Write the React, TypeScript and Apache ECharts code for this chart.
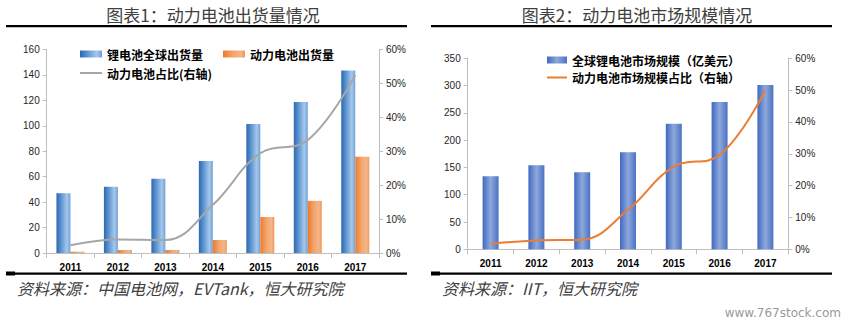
import React, { useEffect, useRef } from "react";
import * as echarts from "echarts";

const years = ["2011", "2012", "2013", "2014", "2015", "2016", "2017"];
const globalShipments = [47, 52, 58.3, 72.4, 101.5, 118.8, 143.5];
const powerShipments = [1, 2.4, 2.4, 10.2, 28.3, 41, 75.6];
const powerShare = [0.023, 0.04, 0.038, 0.142, 0.294, 0.333, 0.525];
const marketSize = [134, 154, 141, 178, 230, 270, 301];
const marketShare = [0.017, 0.028, 0.03, 0.124, 0.26, 0.296, 0.5];

const title1 = "图表1：动力电池出货量情况";
const title2 = "图表2：动力电池市场规模情况";
const source1 = "资料来源：中国电池网，EVTank，恒大研究院";
const source2 = "资料来源：IIT，恒大研究院";
const watermark = "www.767stock.com";
const s1Name = "锂电池全球出货量";
const s2Name = "动力电池出货量";
const s3Name = "动力电池占比(右轴)";
const s4Name = "全球锂电池市场规模（亿美元）";
const s5Name = "动力电池市场规模占比（右轴）";

const sans = "'Liberation Sans', Arial, sans-serif";
const cjk = "'Noto Sans CJK SC', sans-serif";

const grad = (stops: [number, string][]) => ({
  type: "linear",
  x: 0,
  y: 0,
  x2: 1,
  y2: 0,
  colorStops: stops.map(([offset, color]) => ({ offset, color })),
});

const blue1 = grad([
  [0, "#2c69b0"],
  [0.35, "#5f95d2"],
  [0.75, "#a6c8ea"],
  [1, "#6fa1d8"],
]);
const orange1 = grad([
  [0, "#ec7a2c"],
  [0.45, "#f3a66e"],
  [0.8, "#f5b587"],
  [1, "#ef9658"],
]);
const blue2 = grad([
  [0, "#4068bf"],
  [0.5, "#8ea8dc"],
  [1, "#4a72c4"],
]);

const axisGrey = "#bfbfbf";

function yAxisBase(min: number, max: number, interval: number, pct: boolean, gridIndex: number, position: string) {
  return {
    type: "value",
    gridIndex,
    position,
    min,
    max,
    interval,
    splitLine: { show: false },
    axisLine: { show: true, lineStyle: { color: axisGrey, width: 1 } },
    axisTick: { show: true, length: 4, lineStyle: { color: axisGrey } },
    axisLabel: {
      margin: 7,
      color: "#262626",
      fontSize: 10,
      fontFamily: sans,
      formatter: pct ? (v: number) => Math.round(v * 100) + "%" : undefined,
    },
  };
}

function xAxisBase(gridIndex: number) {
  return {
    type: "category",
    gridIndex,
    data: years,
    boundaryGap: true,
    axisLine: { show: true, lineStyle: { color: axisGrey, width: 1 } },
    axisTick: { show: true, length: 5, alignWithLabel: false, lineStyle: { color: axisGrey } },
    axisLabel: { margin: 9, color: "#000", fontSize: 10, fontWeight: "bold", fontFamily: sans },
  };
}

const legendText = { fontSize: 12, fontWeight: "bold", fontFamily: cjk, color: "#000", padding: [0, 0, 0, 0] };

export default function App() {
  const ref = useRef<HTMLDivElement>(null);
  useEffect(() => {
    if (!ref.current) return;
    const chart = echarts.init(ref.current, undefined, { renderer: "svg" });
    chart.setOption({
      animation: false,
      backgroundColor: "#ffffff",
      grid: [
        { left: 46.7, top: 49.5, width: 332.3, height: 203.5 },
        { left: 467.7, top: 58.3, width: 320.6, height: 191 },
      ],
      xAxis: [xAxisBase(0), xAxisBase(1)],
      yAxis: [
        yAxisBase(0, 160, 20, false, 0, "left"),
        yAxisBase(0, 0.6, 0.1, true, 0, "right"),
        yAxisBase(0, 350, 50, false, 1, "left"),
        yAxisBase(0, 0.6, 0.1, true, 1, "right"),
      ],
      legend: [
        {
          data: [
            { name: s1Name, icon: "rect" },
            { name: s2Name, icon: "rect" },
          ],
          left: 75,
          top: 43,
          itemWidth: 22,
          itemHeight: 7,
          itemGap: 20,
          textStyle: legendText,
          selectedMode: false,
        },
        {
          data: [{ name: s3Name, icon: "rect" }],
          left: 75,
          top: 62,
          itemWidth: 22,
          itemHeight: 2,
          textStyle: legendText,
          selectedMode: false,
        },
        {
          data: [{ name: s4Name, icon: "rect" }],
          left: 542,
          top: 49,
          itemWidth: 20,
          itemHeight: 7,
          textStyle: legendText,
          selectedMode: false,
        },
        {
          data: [{ name: s5Name, icon: "rect" }],
          left: 542,
          top: 66.5,
          itemWidth: 20,
          itemHeight: 2,
          textStyle: legendText,
          selectedMode: false,
        },
      ],
      series: [
        {
          name: s1Name,
          type: "bar",
          xAxisIndex: 0,
          yAxisIndex: 0,
          data: globalShipments,
          barWidth: 14,
          barGap: "0%",
          itemStyle: { color: blue1 },
        },
        {
          name: s2Name,
          type: "bar",
          xAxisIndex: 0,
          yAxisIndex: 0,
          data: powerShipments,
          barWidth: 14,
          barGap: "0%",
          itemStyle: { color: orange1 },
        },
        {
          name: s3Name,
          type: "line",
          xAxisIndex: 0,
          yAxisIndex: 1,
          data: powerShare,
          smooth: 0.4,
          symbol: "none",
          lineStyle: { color: "#a6a6a6", width: 2 },
          itemStyle: { color: "#a6a6a6" },
        },
        {
          name: s4Name,
          type: "bar",
          xAxisIndex: 1,
          yAxisIndex: 2,
          data: marketSize,
          barWidth: 16,
          itemStyle: { color: blue2 },
        },
        {
          name: s5Name,
          type: "line",
          xAxisIndex: 1,
          yAxisIndex: 3,
          data: marketShare,
          smooth: 0.4,
          symbol: "none",
          lineStyle: { color: "#ed7d31", width: 2 },
          itemStyle: { color: "#ed7d31" },
        },
      ],
      graphic: [
        {
          type: "text",
          x: 213,
          y: 14.5,
          style: {
            text: title1,
            fontSize: 17,
            fontFamily: cjk,
            fill: "#404040",
            align: "center",
            verticalAlign: "middle",
          },
        },
        {
          type: "text",
          x: 637,
          y: 14.5,
          style: {
            text: title2,
            fontSize: 17,
            fontFamily: cjk,
            fill: "#404040",
            align: "center",
            verticalAlign: "middle",
          },
        },
        { type: "rect", shape: { x: 6, y: 25, width: 401, height: 2.3 }, style: { fill: "#000" } },
        { type: "rect", shape: { x: 431, y: 25, width: 401, height: 2.3 }, style: { fill: "#000" } },
        { type: "rect", shape: { x: 6, y: 272.5, width: 401, height: 2.3 }, style: { fill: "#000" } },
        { type: "rect", shape: { x: 431, y: 272.5, width: 401, height: 2.3 }, style: { fill: "#000" } },
        { type: "rect", shape: { x: 6, y: 271.5, width: 9, height: 4 }, style: { fill: "#000" } },
        { type: "rect", shape: { x: 431, y: 271.5, width: 9, height: 4 }, style: { fill: "#000" } },
        {
          type: "text",
          x: 17,
          y: 288,
          style: {
            text: source1,
            fontSize: 16,
            fontStyle: "italic",
            fontFamily: cjk,
            fill: "#404040",
            verticalAlign: "middle",
          },
        },
        {
          type: "text",
          x: 442,
          y: 288,
          style: {
            text: source2,
            fontSize: 16,
            fontStyle: "italic",
            fontFamily: cjk,
            fill: "#404040",
            verticalAlign: "middle",
          },
        },
        {
          type: "text",
          x: 841,
          y: 313,
          style: {
            text: watermark,
            fontSize: 12,
            fontFamily: "'DejaVu Sans', sans-serif",
            fill: "#9a9a9a",
            align: "right",
            verticalAlign: "middle",
          },
        },
      ],
    });
    return () => chart.dispose();
  }, []);
  return (
    <div
      ref={ref}
      style={{ position: "fixed", left: 0, top: 0, width: 851, height: 323, background: "#fff" }}
    />
  );
}
